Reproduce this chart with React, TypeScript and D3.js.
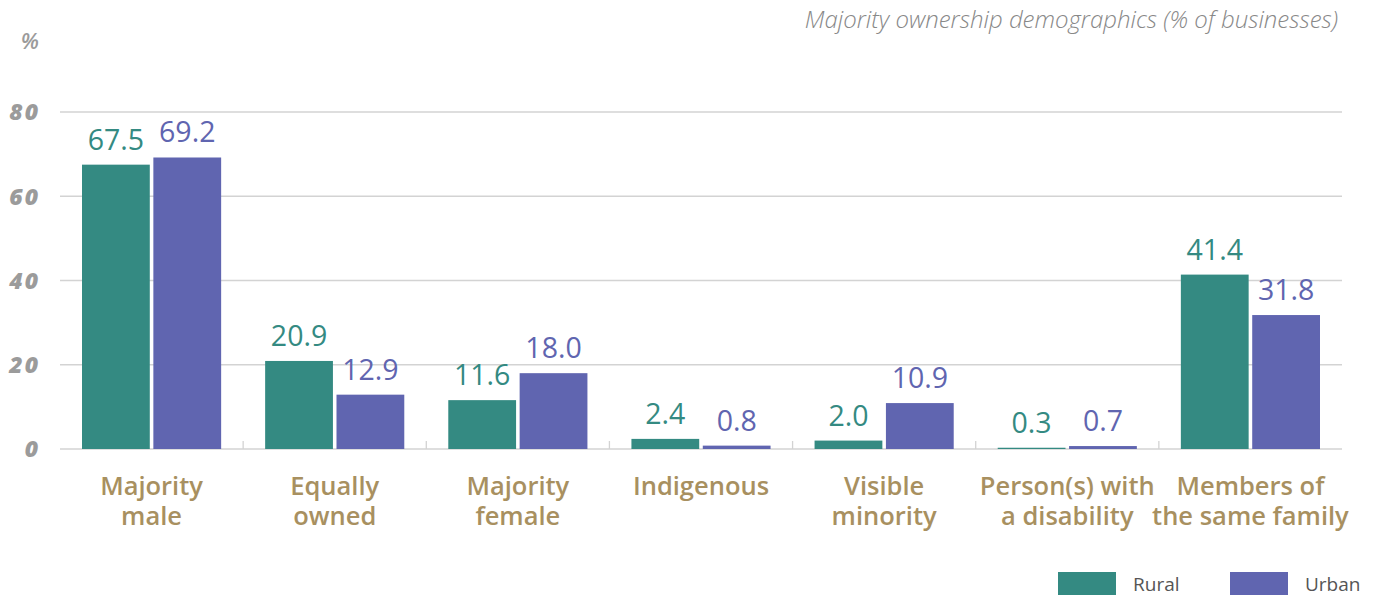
import React, { useEffect, useRef } from "react";
import * as d3 from "d3";

const categories = [
  ["Majority", "male"],
  ["Equally", "owned"],
  ["Majority", "female"],
  ["Indigenous"],
  ["Visible", "minority"],
  ["Person(s) with", "a disability"],
  ["Members of", "the same family"],
];
const series = ["Rural", "Urban"];
const rural = [67.5, 20.9, 11.6, 2.4, 2.0, 0.3, 41.4];
const urban = [69.2, 12.9, 18.0, 0.8, 10.9, 0.7, 31.8];
const yTicks = [0, 20, 40, 60, 80];
const colors = ["#348a82", "#6065b0"];

const W = 1374;
const H = 598;
const FONT = "'Open Sans', 'Noto Sans', sans-serif";

const App = () => {
  const ref = useRef<SVGSVGElement>(null);

  useEffect(() => {
    if (!ref.current) return;
    const svg = d3.select(ref.current);
    svg.selectAll("*").remove();

    const left = 60;
    const right = 1342;
    const x = d3
      .scaleBand<number>()
      .domain(d3.range(categories.length))
      .range([left, right]);
    const y = d3.scaleLinear().domain([0, 80]).range([449, 112]);
    const inner = d3
      .scaleBand<number>()
      .domain([0, 1])
      .range([22, x.bandwidth() - 22])
      .paddingInner(0.05);

    // gridlines
    svg
      .append("g")
      .selectAll("line")
      .data(yTicks)
      .join("line")
      .attr("x1", left)
      .attr("x2", right)
      .attr("y1", (d) => y(d))
      .attr("y2", (d) => y(d))
      .attr("stroke", "#d3d3d3")
      .attr("stroke-width", 1.3);

    // tick marks between categories
    svg
      .append("g")
      .selectAll("line")
      .data(d3.range(1, categories.length))
      .join("line")
      .attr("x1", (i) => x(i)!)
      .attr("x2", (i) => x(i)!)
      .attr("y1", y(0))
      .attr("y2", y(0) - 8)
      .attr("stroke", "#d3d3d3")
      .attr("stroke-width", 1.3);

    // y labels
    svg
      .append("g")
      .selectAll("text")
      .data(yTicks)
      .join("text")
      .attr("x", 40)
      .attr("y", (d) => y(d))
      .attr("dy", "0.36em")
      .attr("text-anchor", "end")
      .attr("font-family", FONT)
      .attr("font-size", 23)
      .attr("font-weight", 800)
      .attr("font-style", "italic")
      .attr("letter-spacing", 2)
      .attr("fill", "#9b9b9b")
      .text((d) => d);

    svg
      .append("text")
      .attr("x", 39)
      .attr("y", 49)
      .attr("text-anchor", "end")
      .attr("font-family", FONT)
      .attr("font-size", 22)
      .attr("font-weight", 600)
      .attr("font-style", "italic")
      .attr("fill", "#9b9b9b")
      .text("%");

    svg
      .append("text")
      .attr("x", 1338)
      .attr("y", 28)
      .attr("text-anchor", "end")
      .attr("font-family", FONT)
      .attr("font-size", 24)
      .attr("font-weight", 300)
      .attr("font-style", "italic")
      .attr("fill", "#888")
      .text("Majority ownership demographics (% of businesses)");

    const data = [rural, urban];
    data.forEach((vals, s) => {
      const g = svg.append("g");
      g.selectAll("rect")
        .data(vals)
        .join("rect")
        .attr("x", (_, i) => x(i)! + inner(s)!)
        .attr("width", inner.bandwidth())
        .attr("y", (d) => y(d))
        .attr("height", (d) => y(0) - y(d))
        .attr("fill", colors[s]);
      g.selectAll("text")
        .data(vals)
        .join("text")
        .attr("x", (_, i) => x(i)! + inner(s)! + inner.bandwidth() / 2)
        .attr("y", (d) => y(d) - 15)
        .attr("text-anchor", "middle")
        .attr("font-family", FONT)
        .attr("font-size", 28.5)
        .attr("fill", colors[s])
        .text((d) => d.toFixed(1));
    });

    // category labels, one text per line
    const catG = svg.append("g");
    categories.forEach((lines, i) => {
      lines.forEach((line, j) => {
        catG
          .append("text")
          .attr("x", x(i)! + x.bandwidth() / 2)
          .attr("y", 495 + j * 30)
          .attr("text-anchor", "middle")
          .attr("font-family", FONT)
          .attr("font-size", 25.5)
          .attr("font-weight", 600)
          .attr("fill", "#a89060")
          .text(line);
      });
    });

    // legend
    const legendX = [1058, 1230];
    series.forEach((name, s) => {
      svg
        .append("rect")
        .attr("x", legendX[s])
        .attr("y", 572)
        .attr("width", 58)
        .attr("height", 23)
        .attr("fill", colors[s]);
      svg
        .append("text")
        .attr("x", legendX[s] + 75)
        .attr("y", 591)
        .attr("font-family", FONT)
        .attr("font-size", 19)
        .attr("fill", "#555")
        .text(name);
    });
  }, []);

  return (
    <svg
      ref={ref}
      width={W}
      height={H}
      style={{ position: "absolute", left: 0, top: 0, background: "#fff" }}
    />
  );
};

export default App;
